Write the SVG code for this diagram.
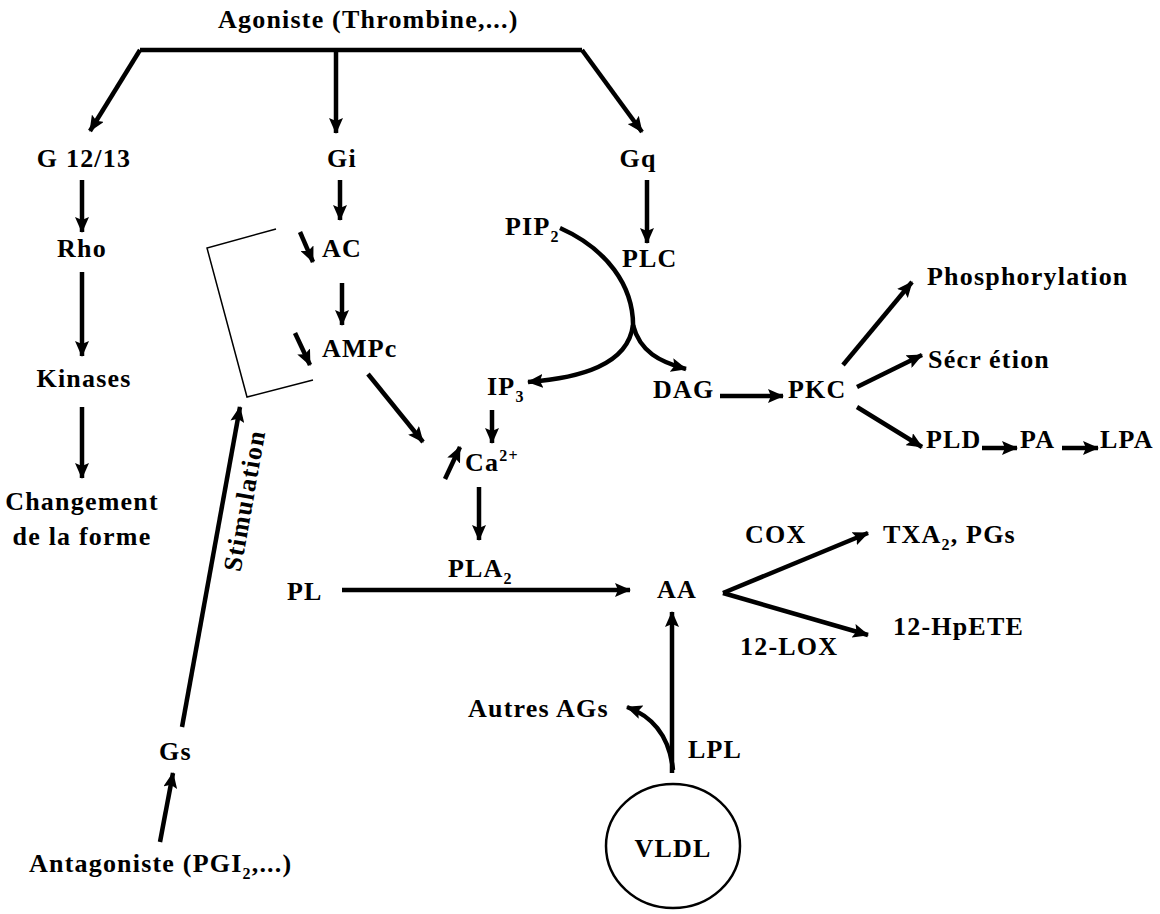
<svg xmlns="http://www.w3.org/2000/svg" width="1160" height="914" viewBox="0 0 1160 914">
<defs>
<style>
text{font-family:"Liberation Serif","Times New Roman",serif;font-size:26px;font-weight:bold;fill:#000;letter-spacing:1.2px}
.sub{font-size:16px}
.c{stroke:#000;fill:none;stroke-width:4.5}
.thin{stroke:#000;fill:none;stroke-width:1.5}
</style>
<marker id="ah" markerUnits="userSpaceOnUse" markerWidth="18" markerHeight="14" refX="15" refY="7" orient="auto">
<path d="M0,0 L16,7 L0,14 L3,7 z" fill="#000"/>
</marker>
</defs>
<rect width="1160" height="914" fill="#fff"/>

<g id="connectors">
<path class="c" d="M140,50 H582" stroke-width="3.5"/>
<path class="c" d="M140,50 L90,131" marker-end="url(#ah)"/>
<path class="c" d="M336,50 V133" marker-end="url(#ah)"/>
<path class="c" d="M582,50 L642,132" marker-end="url(#ah)"/>
<path class="c" d="M82,180 V232" marker-end="url(#ah)"/>
<path class="c" d="M82,272 V356" marker-end="url(#ah)"/>
<path class="c" d="M82,407 V478" marker-end="url(#ah)"/>
<path class="c" d="M340,180 V220" marker-end="url(#ah)"/>
<path class="c" d="M342,283 V325" marker-end="url(#ah)"/>
<path class="c" d="M300,232 L313,262" marker-end="url(#ah)"/>
<path class="c" d="M295,333 L310,365" marker-end="url(#ah)"/>
<polyline class="thin" points="276,229 207,248 247,397 313,380"/>
<path class="c" d="M368,374 L423,442" marker-end="url(#ah)"/>
<path class="c" d="M492,410 V443" marker-end="url(#ah)"/>
<path class="c" d="M445,479 L460,447" marker-end="url(#ah)"/>
<path class="c" d="M479,487 V540" marker-end="url(#ah)"/>
<path class="c" d="M647,180 V243" marker-end="url(#ah)"/>
<path class="c" d="M560,228 C605,248 635,285 633,330"/>
<path class="c" d="M633,325 C628,365 580,378 528,382" marker-end="url(#ah)"/>
<path class="c" d="M633,325 C640,352 660,362 686,369" marker-end="url(#ah)"/>
<path class="c" d="M720,396 H783" marker-end="url(#ah)"/>
<path class="c" d="M843,365 L912,282" marker-end="url(#ah)"/>
<path class="c" d="M857,387 L922,355" marker-end="url(#ah)"/>
<path class="c" d="M857,407 L922,447" marker-end="url(#ah)"/>
<path class="c" d="M982,448 H1017" marker-end="url(#ah)"/>
<path class="c" d="M1062,448 H1098" marker-end="url(#ah)"/>
<path class="c" d="M342,590 H630" stroke-width="5" marker-end="url(#ah)"/>
<path class="c" d="M723,593 L868,533" marker-end="url(#ah)"/>
<path class="c" d="M723,593 L868,635" marker-end="url(#ah)"/>
<path class="c" d="M672,773 V612" stroke-width="3.5" marker-end="url(#ah)"/>
<path class="c" d="M673,770 Q668,722 627,707" marker-end="url(#ah)"/>
<path class="c" d="M160,842 L173,773" marker-end="url(#ah)"/>
<path class="c" d="M182,727 L240,407" marker-end="url(#ah)"/>
</g>

<g id="agoniste"><text x="218" y="28">Agoniste (Thrombine,...)</text></g>
<g id="g1213"><text x="84" y="167" text-anchor="middle">G 12/13</text></g>
<g id="gi"><text x="342" y="167" text-anchor="middle">Gi</text></g>
<g id="gq"><text x="638" y="167" text-anchor="middle">Gq</text></g>
<g id="rho"><text x="82" y="257" text-anchor="middle">Rho</text></g>
<g id="kinases"><text x="84" y="387" text-anchor="middle">Kinases</text></g>
<g id="changement"><text x="82" y="510" text-anchor="middle">Changement</text><text x="82" y="545" text-anchor="middle">de la forme</text></g>
<g id="ac"><text x="322" y="257">AC</text></g>
<g id="ampc"><text x="322" y="357">AMPc</text></g>
<g id="pip2"><text x="505" y="235">PIP<tspan class="sub" dy="7">2</tspan></text></g>
<g id="plc"><text x="622" y="267">PLC</text></g>
<g id="ip3"><text x="487" y="395">IP<tspan class="sub" dy="7">3</tspan></text></g>
<g id="dag"><text x="653" y="398">DAG</text></g>
<g id="pkc"><text x="788" y="398">PKC</text></g>
<g id="phos"><text x="927" y="285">Phosphorylation</text></g>
<g id="secretion"><text x="928" y="368">Sécr étion</text></g>
<g id="pld"><text x="926" y="448">PLD</text></g>
<g id="pa"><text x="1020" y="448">PA</text></g>
<g id="lpa"><text x="1100" y="448">LPA</text></g>
<g id="ca"><text x="465" y="471">Ca<tspan class="sub" dy="-10">2+</tspan></text></g>
<g id="pla2"><text x="448" y="577">PLA<tspan class="sub" dy="7">2</tspan></text></g>
<g id="pl"><text x="287" y="600">PL</text></g>
<g id="aa"><text x="657" y="598">AA</text></g>
<g id="cox"><text x="745" y="543">COX</text></g>
<g id="txa2"><text x="883" y="543">TXA<tspan class="sub" dy="7">2</tspan><tspan dy="-7">, PGs</tspan></text></g>
<g id="hpete"><text x="893" y="635">12-HpETE</text></g>
<g id="lox"><text x="740" y="655">12-LOX</text></g>
<g id="autres"><text x="468" y="717">Autres AGs</text></g>
<g id="lpl"><text x="688" y="758">LPL</text></g>
<g id="vldl"><ellipse cx="673" cy="846" rx="67" ry="62" fill="none" stroke="#000" stroke-width="2.5"/><text x="673" y="857" text-anchor="middle">VLDL</text></g>
<g id="gs"><text x="159" y="760">Gs</text></g>
<g id="antagoniste"><text x="29" y="872">Antagoniste (PGI<tspan class="sub" dy="7">2</tspan><tspan dy="-7">,...)</tspan></text></g>
<g id="stimulation"><text transform="translate(253,502) rotate(-80)" text-anchor="middle" font-size="21">Stimulation</text></g>
</svg>
